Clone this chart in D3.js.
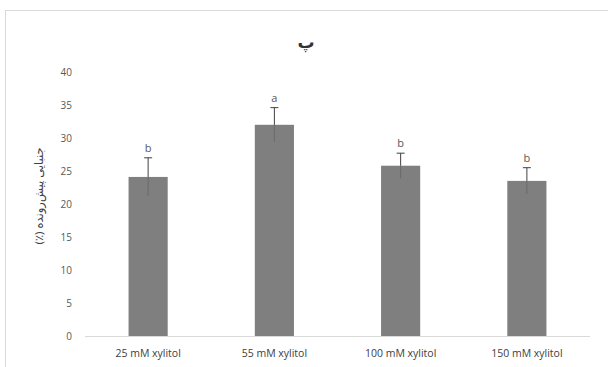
<!DOCTYPE html>
<html lang="fa">
<head>
    <meta charset="UTF-8">
    <script src="https://d3js.org/d3.v7.min.js"></script>
    <style>
        body { margin: 0; background: #fff; }
        .tick-label { font-family: "Open Sans", "Liberation Sans", sans-serif; font-size: 10px; fill: #595959; }
        .cat-label { font-family: "Open Sans", "Liberation Sans", sans-serif; font-size: 10.5px; fill: #404040; }
    </style>
</head>
<body>
<svg width="608" height="367" id="chart"></svg>
<script>
// data
const categories = ["25 mM xylitol", "55 mM xylitol", "100 mM xylitol", "150 mM xylitol"];
const means = [24.1, 32.0, 25.8, 23.5];
const errors = [2.9, 2.6, 1.9, 2.0];
const letters = ["b", "a", "b", "b"];
const yTicks = [0, 5, 10, 15, 20, 25, 30, 35, 40];

const svg = d3.select("#chart");

// outer chart frame
svg.append("rect")
    .attr("x", 5.5).attr("y", 10.5)
    .attr("width", 610).attr("height", 370)
    .attr("fill", "#fff")
    .attr("stroke", "#d9d9d9");

const x = d3.scaleBand().domain(categories).range([85, 590]).paddingInner(0.69).paddingOuter(0.345);
const y = d3.scaleLinear().domain([0, 40]).range([336, 72]);

// y tick labels (no gridlines)
svg.selectAll(".tick-label")
    .data(yTicks)
    .enter().append("text")
    .attr("class", "tick-label")
    .attr("x", 72)
    .attr("y", d => y(d))
    .attr("dy", "0.35em")
    .attr("text-anchor", "end")
    .text(d => d);

// bars
svg.selectAll(".bar")
    .data(means)
    .enter().append("rect")
    .attr("class", "bar")
    .attr("x", (d, i) => x(categories[i]))
    .attr("y", d => y(d))
    .attr("width", x.bandwidth())
    .attr("height", d => y(0) - y(d))
    .attr("fill", "#7f7f7f");

// error bars (lower half hidden mostly inside the bar)
const cx = i => x(categories[i]) + x.bandwidth() / 2;
const eb = svg.selectAll(".err")
    .data(means)
    .enter().append("g")
    .attr("class", "err");

eb.append("line")
    .attr("x1", (d, i) => cx(i)).attr("x2", (d, i) => cx(i))
    .attr("y1", (d, i) => y(d - errors[i]))
    .attr("y2", d => y(d))
    .attr("stroke", "#6a6a6a");

eb.append("line")
    .attr("x1", (d, i) => cx(i)).attr("x2", (d, i) => cx(i))
    .attr("y1", d => y(d))
    .attr("y2", (d, i) => y(d + errors[i]))
    .attr("stroke", "#404040");

eb.append("line")
    .attr("x1", (d, i) => cx(i) - 4).attr("x2", (d, i) => cx(i) + 4)
    .attr("y1", (d, i) => y(d + errors[i]))
    .attr("y2", (d, i) => y(d + errors[i]))
    .attr("stroke", "#404040");

// significance letters
svg.selectAll(".letter")
    .data(letters)
    .enter().append("text")
    .attr("class", "tick-label")
    .style("font-size", "11px")
    .attr("x", (d, i) => cx(i))
    .attr("y", (d, i) => y(means[i] + errors[i]) - 6)
    .attr("text-anchor", "middle")
    .text(d => d);

// x axis line
svg.append("line")
    .attr("x1", 85).attr("x2", 590)
    .attr("y1", y(0) + 0.5).attr("y2", y(0) + 0.5)
    .attr("stroke", "#d9d9d9");

// category labels
svg.selectAll(".cat-label")
    .data(categories)
    .enter().append("text")
    .attr("class", "cat-label")
    .attr("x", d => x(d) + x.bandwidth() / 2)
    .attr("y", 357)
    .attr("text-anchor", "middle")
    .text(d => d);

// title
svg.append("text")
    .attr("x", 306).attr("y", 48)
    .attr("text-anchor", "middle")
    .attr("font-family", "'Noto Sans', 'DejaVu Sans', sans-serif")
    .attr("font-size", 17)
    .attr("font-weight", "bold")
    .attr("fill", "#333")
    .text("پ");

// y axis title
svg.append("text")
    .attr("transform", "translate(43," + (y(20) - 8) + ") rotate(-90)")
    .attr("text-anchor", "middle")
    .attr("font-family", "'Noto Sans', 'DejaVu Sans', sans-serif")
    .attr("font-size", 11.5)
    .attr("fill", "#404040")
    .attr("direction", "rtl")
    .text("جنبایی پیش‌رونده (٪)");
</script>
</body>
</html>
